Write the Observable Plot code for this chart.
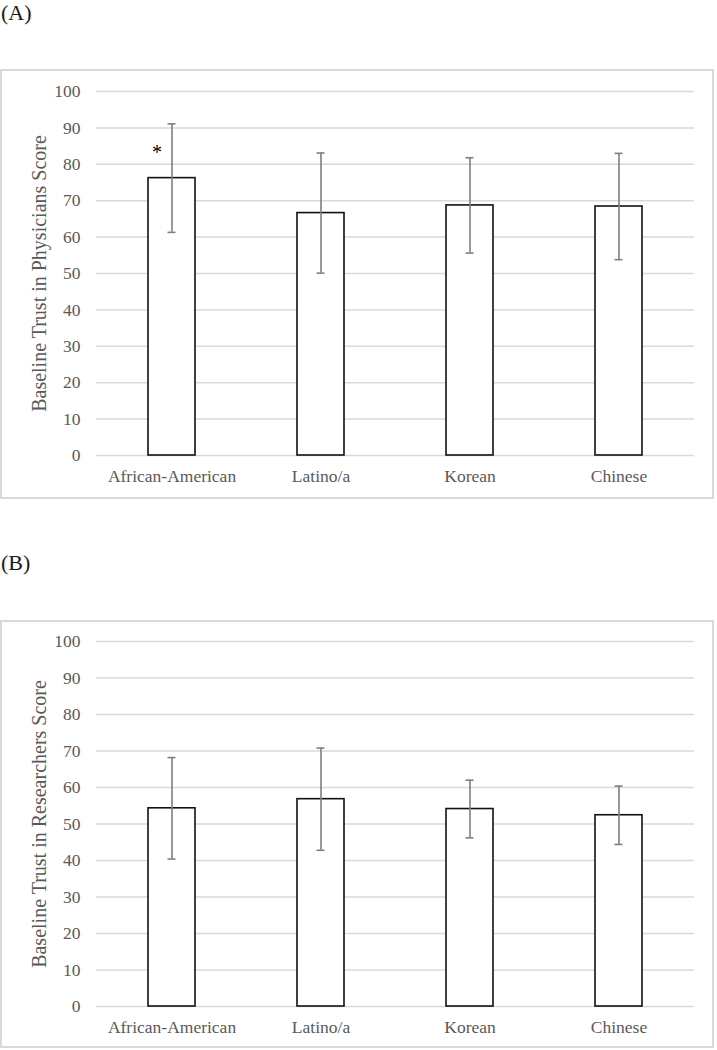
<!DOCTYPE html>
<html><head><meta charset="utf-8">
<script src="https://cdn.jsdelivr.net/npm/d3@7"></script>
<script src="https://cdn.jsdelivr.net/npm/@observablehq/plot@0.6"></script>
<style>
body{margin:0;background:#fff;font-family:"Liberation Serif",serif;}
#root{position:relative;width:717px;height:1050px;overflow:hidden;}
.lab{position:absolute;left:1px;font-size:22px;color:#1a1a1a;line-height:22px;font-family:"Liberation Serif",serif;}
.box{position:absolute;left:0;width:710px;border:2px solid #d9d9d9;}
.chart{position:absolute;left:0;}
</style></head><body><div id="root"></div>
<script>
const groups = ["African-American", "Latino/a", "Korean", "Chinese"];
const physMean = [76.2, 66.6, 68.7, 68.4];
const physSD = [14.9, 16.5, 13.1, 14.6];
const resMean = [54.3, 56.8, 54.1, 52.4];
const resSD = [13.9, 14.0, 7.9, 8.0];
const yTicks = [0, 10, 20, 30, 40, 50, 60, 70, 80, 90, 100];
const physSig = ["African-American"];
const resSig = [];
const panels = [
  {tag: "(A)", tagTop: 2, top: 69, h: 430, mt: 22, mb: 44, boxH: 426,
   label: "Baseline Trust in Physicians Score", mean: physMean, sd: physSD, sig: physSig},
  {tag: "(B)", tagTop: 552, top: 620, h: 428, mt: 21, mb: 42, boxH: 424,
   label: "Baseline Trust in Researchers Score", mean: resMean, sd: resSD, sig: resSig}
];
const root = document.getElementById("root");
for (const p of panels) {
  const data = groups.map((g, i) => ({group: g, mean: p.mean[i], lo: p.mean[i] - p.sd[i], hi: p.mean[i] + p.sd[i]}));
  const tag = document.createElement("div");
  tag.className = "lab"; tag.style.top = p.tagTop + "px"; tag.textContent = p.tag;
  root.appendChild(tag);
  const box = document.createElement("div");
  box.className = "box"; box.style.top = p.top + "px"; box.style.height = p.boxH + "px";
  root.appendChild(box);
  const chart = Plot.plot({
    width: 717, height: p.h,
    marginLeft: 96, marginRight: 23, marginTop: p.mt, marginBottom: p.mb,
    style: {fontFamily: "Liberation Serif, serif", color: "#595959", background: "transparent", overflow: "visible"},
    x: {domain: groups, paddingInner: 0.686, paddingOuter: 0.343, label: null},
    y: {domain: [0, 100], label: null},
    marks: [
      Plot.gridY(yTicks, {stroke: "#d9d9d9", strokeOpacity: 1, strokeWidth: 1.5}),
      Plot.axisY(yTicks, {tickSize: 0, tickPadding: 16, fontSize: 17.5, label: null}),
      Plot.axisX({tickSize: 0, tickPadding: 14, fontSize: 17.5, label: null}),
      Plot.barY(data, {x: "group", y: "mean", fill: "white", stroke: "#111", strokeWidth: 1.6}),
      Plot.ruleX(data, {x: "group", y1: "lo", y2: "hi", stroke: "#7f7f7f", strokeWidth: 1.6}),
      Plot.tickY(data, {x: "group", y: "lo", stroke: "#7f7f7f", strokeWidth: 1.6, insetLeft: 19.5, insetRight: 19.5}),
      Plot.tickY(data, {x: "group", y: "hi", stroke: "#7f7f7f", strokeWidth: 1.6, insetLeft: 19.5, insetRight: 19.5}),
      Plot.text(data.filter(d => p.sig.includes(d.group)), {x: "group", y: "mean", text: () => "*", dx: -15, dy: -26, fontSize: 20, fill: "#000"}),
      Plot.text([p.label], {frameAnchor: "left", textAnchor: "middle", dx: -57, rotate: -90, fontSize: 20, fill: "#595959"})
    ]
  });
  chart.classList.add("chart");
  chart.style.top = p.top + "px";
  root.appendChild(chart);
}
</script></body></html>
